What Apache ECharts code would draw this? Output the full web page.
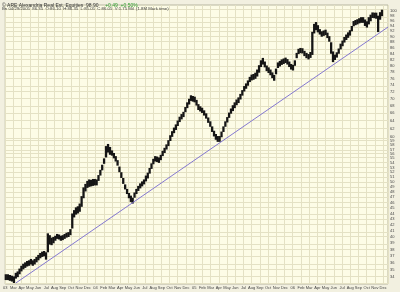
<!DOCTYPE html>
<html><head><meta charset="utf-8">
<script src="https://cdn.jsdelivr.net/npm/echarts@6/dist/echarts.min.js"></script>
<style>html,body{margin:0;padding:0;background:#F2F0E0}#c{width:400px;height:292px}</style>
</head><body><div id="c"></div>
<script>
// ---- data ----
const titleMain = '\u00A9 ARE Alexandria Real Est. Equities  98.90';
const titleChange = '+0.49  +0.50%';
const titleInfo = 'Bn 04/29/2005  86.35  O:86.10  H:86.35  L:85.05  C:86.05  V:1.75 Mil  (1.8M Mark time)';
const firstWeek = [2003, 1, 3]; // Mon 3 Feb 2003, weekly bars
const weeklyLow = [33.6,33.6,33.5,33.4,33.2,33.8,34.0,34.4,34.8,35.1,
35.3,35.5,35.6,35.8,35.6,35.8,36.1,36.4,36.7,36.9,
37.0,36.5,37.6,38.8,38.7,39.0,39.4,39.7,39.6,39.4,
39.5,39.7,39.9,40.0,40.3,41.4,43.3,43.8,44.0,44.3,
45.2,46.8,48.1,48.8,49.0,49.1,49.2,49.3,49.3,50.2,
51.3,52.4,53.8,55.2,56.3,55.8,55.6,55.0,54.3,53.4,
52.0,50.8,49.6,48.5,47.6,46.8,46.1,45.8,46.9,47.6,
48.2,48.7,49.1,49.5,50.1,50.7,51.7,52.7,53.7,54.3,
54.2,54.0,54.6,55.5,56.2,57.0,57.8,59.0,60.0,60.9,
61.7,62.7,63.7,64.4,65.0,66.3,67.4,68.4,69.4,69.2,
69.0,68.1,66.9,66.5,66.1,65.4,64.6,63.5,62.5,61.2,
60.1,59.3,58.8,58.8,59.9,61.2,62.5,63.6,64.8,65.9,
66.6,67.4,68.2,68.8,69.8,70.9,72.1,72.9,73.8,74.9,
75.4,75.6,75.9,76.6,77.8,79.6,80.4,79.5,78.3,77.7,
77.0,76.1,75.3,77.3,79.3,79.8,80.3,80.6,80.9,80.4,
79.6,78.8,78.5,80.0,82.5,83.9,84.2,84.1,83.2,82.5,
82.1,82.6,83.6,91.2,92.4,91.6,90.8,90.0,90.3,90.6,
89.5,88.2,84.0,81.2,81.9,82.7,84.0,85.5,86.6,87.9,
88.8,89.6,90.4,92.0,93.9,94.3,94.6,95.0,95.2,95.2,
94.0,93.4,94.6,95.8,97.1,97.0,96.8,91.7,96.4,97.8];
const weeklyHigh = [34.4,34.4,34.3,34.2,34.1,34.6,34.8,35.2,35.6,35.9,
36.1,36.3,36.4,36.6,36.4,36.6,36.9,37.2,37.5,37.7,
37.8,37.6,40.6,40.3,39.9,40.0,40.2,40.5,40.4,40.2,
40.3,40.5,40.7,40.8,41.3,44.0,44.6,45.1,45.3,45.8,
47.2,48.9,49.6,50.2,50.5,50.4,50.6,50.6,50.5,51.4,
52.5,53.6,55.0,57.8,58.3,57.6,56.8,56.2,55.5,54.6,
53.2,52.0,50.8,49.5,48.6,47.8,47.3,46.9,47.9,48.6,
49.2,49.7,50.1,50.5,51.3,51.9,52.9,53.9,54.9,55.5,
55.4,55.2,55.8,56.7,57.4,58.2,59.2,60.4,61.4,62.3,
63.1,64.1,65.1,65.8,66.4,67.7,69.0,70.0,71.0,70.8,
70.6,69.7,68.5,67.9,67.5,66.8,66.0,64.9,63.9,62.6,
61.5,60.7,60.2,60.2,61.3,62.6,63.9,65.0,66.2,67.3,
68.2,69.0,69.8,70.4,71.4,72.5,73.7,74.5,75.4,76.5,
77.2,77.4,77.8,78.8,80.2,81.8,82.6,81.4,80.1,79.5,
78.8,77.9,77.1,79.1,81.1,81.6,82.1,82.4,82.7,82.2,
81.4,80.6,80.3,81.8,84.3,85.7,86.0,85.9,85.0,84.3,
83.9,84.6,91.8,94.8,95.5,94.3,92.8,92.0,92.3,92.6,
91.5,90.2,88.0,84.8,83.7,84.5,85.8,87.5,88.6,89.9,
90.8,91.6,92.4,94.0,95.9,96.3,96.6,97.0,97.4,97.4,
96.5,95.8,97.4,98.4,99.3,99.2,99.2,98.0,99.4,100.4];
const trendStart = ['2003-03-10', 33.2];
const trendEnd = ['2006-12-20', 93.6];
const yTicks = [100,98,96,94,92,90,88,86,84,82,80,78,76,74,72,70,68,66,64,62,60,
59,58,57,56,55,54,53,52,51,50,49,48,47,46,45,44,43,42,41,40,39,38,37,36,35,34,33];
const monthLabels = ['03','Mar','Apr','May','Jun','Jul','Aug','Sep','Oct','Nov','Dec',
'04','Feb','Mar','Apr','May','Jun','Jul','Aug','Sep','Oct','Nov','Dec',
'05','Feb','Mar','Apr','May','Jun','Jul','Aug','Sep','Oct','Nov','Dec',
'06','Feb','Mar','Apr','May','Jun','Jul','Aug','Sep','Oct','Nov','Dec'];

// ---- helpers ----
function monthPos(d) { // months since Jan 2003 (Feb 1 2003 = 1)
  const y = d.getUTCFullYear(), m = d.getUTCMonth(), day = d.getUTCDate();
  const dim = new Date(Date.UTC(y, m + 1, 0)).getUTCDate();
  return (y - 2003) * 12 + m + (day - 1) / dim;
}
const t0 = Date.UTC(firstWeek[0], firstWeek[1], firstWeek[2]);
const bars = weeklyLow.map((lo, i) => [monthPos(new Date(t0 + i * 7 * 86400000)), Math.log(lo), Math.log(weeklyHigh[i])]);
const trend = [trendStart, trendEnd].map(p => [monthPos(new Date(p[0] + 'T00:00:00Z')), Math.log(p[1])]);
const FONT = 'Liberation Sans';

const chart = echarts.init(document.getElementById('c'), null, {renderer: 'canvas'});
chart.setOption({
  animation: false,
  backgroundColor: '#F2F0E0',
  textStyle: {fontFamily: FONT},
  grid: {left: 0, right: 12, top: 5, bottom: 8, show: true, backgroundColor: '#FDFCE6', borderColor: '#B8B6A0', borderWidth: 1},
  graphic: [
    {type: 'text', left: 2, top: 0, z: 100, style: {
      text: '{a|' + titleMain + '}  {b|' + titleChange + '}',
      rich: {a: {fontSize: 5, fill: '#333', fontFamily: FONT}, b: {fontSize: 5, fill: '#2E9E2E', fontFamily: FONT}}}},
    {type: 'text', left: 2, top: 7, z: 100, style: {text: titleInfo, fontSize: 4.3, fill: '#444', fontFamily: FONT}}
  ],
  xAxis: {
    type: 'value', min: 1, max: 47.6, interval: 1,
    axisLine: {show: false}, axisTick: {show: false},
    axisLabel: {fontSize: 4, color: '#444', margin: 2, fontFamily: FONT,
      formatter: v => (Math.abs(v - Math.round(v)) < 1e-6 && monthLabels[Math.round(v) - 1]) || ''},
    splitLine: {show: true, lineStyle: {color: '#E4E1C4', width: 1}}
  },
  yAxis: {
    type: 'value', position: 'right', min: Math.log(33.07), max: Math.log(102.33),
    axisLine: {show: false}, axisTick: {show: false}, splitLine: {show: false},
    axisLabel: {fontSize: 4, color: '#444', margin: 2, fontFamily: FONT,
      customValues: yTicks.map(v => Math.log(v)),
      formatter: v => String(Math.round(Math.exp(v)))}
  },
  series: [
    {type: 'line', data: [], silent: true, z: 1,
      markLine: {silent: true, symbol: 'none', label: {show: false}, z: 1,
        lineStyle: {color: '#E4E1C4', width: 1, type: 'solid'},
        data: yTicks.map(v => ({yAxis: Math.log(v)}))}},
    {type: 'line', data: trend, symbol: 'none', silent: true, z: 10,
      lineStyle: {color: '#8478D0', width: 1, type: 'solid'}},
    {type: 'custom', data: bars, z: 5, silent: true,
      renderItem: (params, api) => {
        const a = api.coord([api.value(0), api.value(1)]);
        const b = api.coord([api.value(0), api.value(2)]);
        const w = api.size([7 / 30.44, 0])[0] + 0.4;
        return {type: 'rect', shape: {x: a[0] - w / 2, y: b[1], width: w, height: a[1] - b[1]},
          style: {fill: '#151515'}};
      }}
  ]
});
</script></body></html>
